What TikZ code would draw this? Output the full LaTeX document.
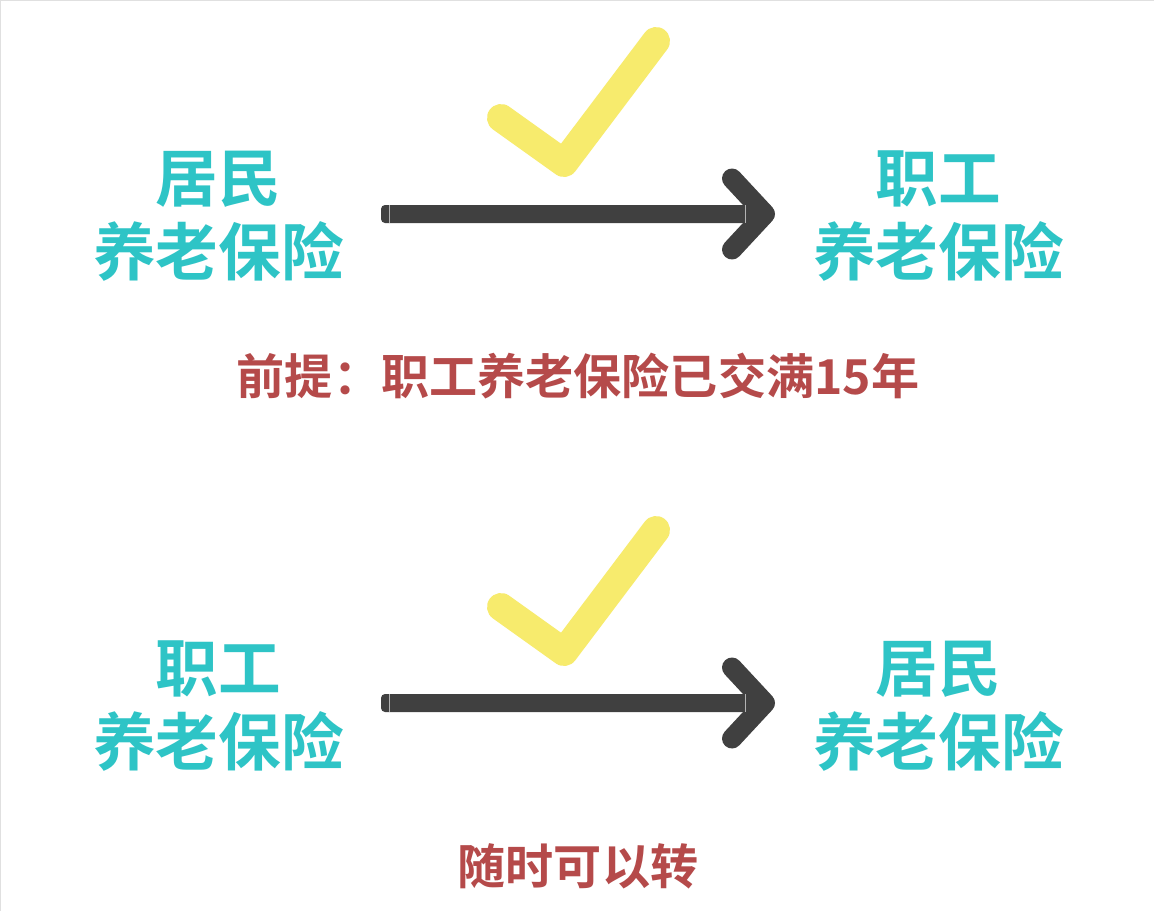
\documentclass[tikz,border=0pt]{standalone}
\usepackage{fontspec}
\newfontfamily\cjk{Noto Sans CJK SC}[BoldFont={Noto Sans CJK SC Bold}]
\definecolor{tealtext}{HTML}{2EC4C6}
\definecolor{brick}{HTML}{B54A4A}
\definecolor{shaft}{HTML}{404040}
\definecolor{tickcol}{HTML}{F7EB6D}
\tikzset{
 big/.style={font=\cjk\bfseries\fontsize{47pt}{55.5pt}\selectfont,text=tealtext,align=center,inner sep=0pt},
 captiontext/.style={font=\cjk\bfseries\fontsize{36.1pt}{42pt}\selectfont,text=brick,inner sep=0pt},
 shaftbar/.style={fill=shaft,rounded corners=3pt},
 headline/.style={draw=shaft,line width=15pt,line cap=round,line join=round},
 seam/.style={draw=white!60!shaft,line width=0.6pt},
 tickline/.style={draw=tickcol,line width=21pt,line cap=round,line join=round}
}
\begin{document}
\begin{tikzpicture}[x=0.75pt,y=-0.75pt]
\useasboundingbox (0,0) rectangle (1154,911);
\fill[white] (0,0) rectangle (1154,911);
\draw[black!12,line width=0.75pt] (0.5,911) -- (0.5,0.5) -- (1154,0.5);
\node[big] (a1) at (218.5,216.5) {居民\\养老保险};
\node[big] (b1) at (938.5,216.5) {职工\\养老保险};
\node[captiontext] (c1) at (578,376.5) {前提：职工养老保险已交满15年};
\node[big] (a2) at (218.5,706.5) {职工\\养老保险};
\node[big] (b2) at (938.5,706.5) {居民\\养老保险};
\node[captiontext] (c2) at (578,866) {随时可以转};
\coordinate (s1) at (381,205); \coordinate (e1) at (752,223);
\coordinate (s2) at (381,694); \coordinate (e2) at (752,712);
\fill[shaftbar] (s1) rectangle (e1);
\draw[headline] (732,178.5) -- (765,214) -- (732,249.5);
\draw[seam] (389,205) -- (389,223);
\draw[seam] (745,205) -- (745,223);
\fill[shaftbar] (s2) rectangle (e2);
\draw[headline] (732,667.5) -- (765,703) -- (732,738.5);
\draw[seam] (389,694) -- (389,712);
\draw[seam] (745,694) -- (745,712);
\draw[tickline] (501,118) -- (564,163) -- (656,41);
\draw[tickline] (501,607) -- (564,652) -- (656,530);
\end{tikzpicture}
\end{document}
